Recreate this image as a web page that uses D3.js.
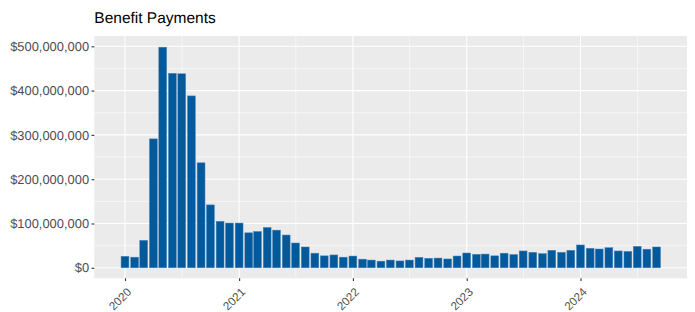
<!DOCTYPE html>
<html>
<head>
<meta charset="utf-8">
<script src="https://cdn.jsdelivr.net/npm/d3@7"></script>
<style>
  html, body { margin: 0; padding: 0; background: #fff; }
  svg { display: block; font-family: "Liberation Sans", Arial, sans-serif; }
  text { text-rendering: geometricPrecision; }
</style>
</head>
<body>
<svg id="chart" width="695" height="312"></svg>
<script>
// Months (first of month), 2020-01 .. 2024-09
const months = [
  "2020-01","2020-02","2020-03","2020-04","2020-05","2020-06","2020-07","2020-08","2020-09","2020-10","2020-11","2020-12",
  "2021-01","2021-02","2021-03","2021-04","2021-05","2021-06","2021-07","2021-08","2021-09","2021-10","2021-11","2021-12",
  "2022-01","2022-02","2022-03","2022-04","2022-05","2022-06","2022-07","2022-08","2022-09","2022-10","2022-11","2022-12",
  "2023-01","2023-02","2023-03","2023-04","2023-05","2023-06","2023-07","2023-08","2023-09","2023-10","2023-11","2023-12",
  "2024-01","2024-02","2024-03","2024-04","2024-05","2024-06","2024-07","2024-08","2024-09"
];
// Benefit payments, millions of dollars
const paymentsMillions = [
  26, 24, 62, 291, 498, 439, 438, 388, 237, 142, 105, 101,
  101, 79, 82, 91, 85, 74, 56, 47, 33, 27, 29, 24,
  26.5, 19.5, 17.5, 15, 17.5, 15.5, 17.5, 23.7, 21.5, 22, 20, 26.6,
  33.4, 30.5, 31, 27, 33, 30, 38, 35, 32, 39.5, 35, 39.5,
  51.5, 44, 42.4, 45.4, 38, 37, 48.5, 42, 47
];
const yTicks = [0, 100e6, 200e6, 300e6, 400e6, 500e6];
const yMinorTicks = [50e6, 150e6, 250e6, 350e6, 450e6];
const xTickYears = ["2020-01-01","2021-01-01","2022-01-01","2023-01-01","2024-01-01"];
const xMinorTicks = ["2020-07-02","2021-07-02","2022-07-02","2023-07-02","2024-07-02"];
const title = "Benefit Payments";

const parse = d3.utcParse("%Y-%m-%d");
const data = months.map((m, i) => ({ date: parse(m + "-01"), value: paymentsMillions[i] * 1e6 }));

const svg = d3.select("#chart");
const panel = { left: 94.3, right: 687, top: 36, bottom: 278.3 };

const x = d3.scaleUtc()
  .domain([parse("2020-01-01"), parse("2024-01-01")])
  .range([125, 580.5]);
const y = d3.scaleLinear()
  .domain([0, 500e6])
  .range([267.8, 46.3]);

// panel background
svg.append("rect")
  .attr("x", panel.left).attr("y", panel.top)
  .attr("width", panel.right - panel.left).attr("height", panel.bottom - panel.top)
  .attr("fill", "#EBEBEB");

const grid = svg.append("g");
// minor gridlines
grid.selectAll(".ymin").data(yMinorTicks).join("line")
  .attr("x1", panel.left).attr("x2", panel.right)
  .attr("y1", d => y(d)).attr("y2", d => y(d))
  .attr("stroke", "#fff").attr("stroke-width", 0.55);
grid.selectAll(".xmin").data(xMinorTicks.map(parse)).join("line")
  .attr("y1", panel.top).attr("y2", panel.bottom)
  .attr("x1", d => x(d)).attr("x2", d => x(d))
  .attr("stroke", "#fff").attr("stroke-width", 0.55);
// major gridlines
grid.selectAll(".ymaj").data(yTicks).join("line")
  .attr("x1", panel.left).attr("x2", panel.right)
  .attr("y1", d => y(d)).attr("y2", d => y(d))
  .attr("stroke", "#fff").attr("stroke-width", 1.1);
grid.selectAll(".xmaj").data(xTickYears.map(parse)).join("line")
  .attr("y1", panel.top).attr("y2", panel.bottom)
  .attr("x1", d => x(d)).attr("x2", d => x(d))
  .attr("stroke", "#fff").attr("stroke-width", 1.1);

// bars: width = 0.9 * 28 days
const dayMs = 24 * 3600 * 1000;
const halfW = 0.9 * 28 * dayMs / 2;
svg.append("g").selectAll("rect").data(data).join("rect")
  .attr("x", d => x(new Date(d.date.getTime() - halfW)))
  .attr("width", d => x(new Date(d.date.getTime() + halfW)) - x(new Date(d.date.getTime() - halfW)))
  .attr("y", d => y(d.value))
  .attr("height", d => y(0) - y(d.value))
  .attr("fill", "#02599C")
  .attr("stroke", "#4f86b8")
  .attr("stroke-width", 0.5);

// y axis
const fmt = v => "$" + d3.format(",")(v);
const yAxis = d3.axisLeft(y).tickValues(yTicks).tickFormat(fmt).tickSize(2.75).tickPadding(2.5);
const gy = svg.append("g").attr("transform", `translate(${panel.left},0)`).call(yAxis);
gy.attr("font-size", null).attr("font-family", null);
gy.select(".domain").remove();
gy.selectAll(".tick line").attr("stroke", "#333").attr("stroke-width", 1.1);
gy.selectAll(".tick text").attr("fill", "#4D4D4D").style("font-size", "12.9px")
  .style("font-family", "'Liberation Sans', Arial, sans-serif");

// x axis
const xAxis = d3.axisBottom(x).tickValues(xTickYears.map(parse)).tickFormat(d3.utcFormat("%Y")).tickSize(2.75);
const gx = svg.append("g").attr("transform", `translate(0,${panel.bottom})`).call(xAxis);
gx.attr("font-size", null).attr("font-family", null);
gx.select(".domain").remove();
gx.selectAll(".tick line").attr("stroke", "#333").attr("stroke-width", 1.1);
gx.selectAll(".tick text")
  .attr("fill", "#4D4D4D").style("font-size", "11.6px")
  .style("font-family", "'Liberation Sans', Arial, sans-serif")
  .attr("text-anchor", "end")
  .attr("y", 0).attr("dy", 0)
  .attr("transform", "translate(6.5,14.5) rotate(-45)");

// title
svg.append("text")
  .attr("x", panel.left).attr("y", 23)
  .attr("fill", "#000")
  .style("font-size", "15.5px")
  .style("font-family", "'Liberation Sans', Arial, sans-serif")
  .text(title);
</script>
</body>
</html>
